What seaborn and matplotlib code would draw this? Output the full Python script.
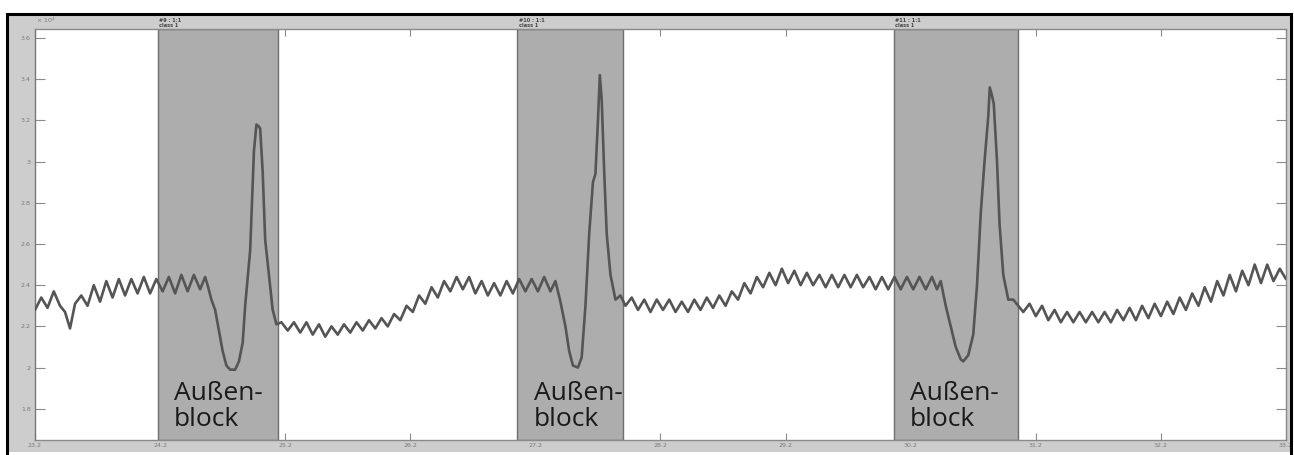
import numpy as np
import pandas as pd
import matplotlib
matplotlib.use("Agg")
import matplotlib.pyplot as plt
from matplotlib.patches import Rectangle
from matplotlib.transforms import blended_transform_factory
import seaborn as sns

# ---------------- data (signal values in units of 10^4) ----------------
seg1_t = [23.20, 23.25, 23.30, 23.35, 23.40, 23.44, 23.48, 23.52, 23.57, 23.62,
          23.67, 23.72, 23.77, 23.82, 23.87, 23.92, 23.97, 24.02, 24.07, 24.12,
          24.17, 24.22, 24.27, 24.32, 24.37, 24.42, 24.47, 24.52, 24.56]
seg1_v = [2.28, 2.34, 2.29, 2.37, 2.30, 2.27, 2.19, 2.31, 2.35, 2.30,
          2.40, 2.32, 2.42, 2.34, 2.43, 2.35, 2.43, 2.36, 2.44, 2.36,
          2.43, 2.37, 2.44, 2.36, 2.45, 2.37, 2.45, 2.38, 2.44]

ev1_t = [24.58, 24.61, 24.64, 24.67, 24.70, 24.73, 24.76, 24.80, 24.83, 24.86,
         24.88, 24.92, 24.95, 24.97, 24.99, 25.00, 25.02, 25.04, 25.07, 25.10, 25.13]
ev1_v = [2.40, 2.33, 2.28, 2.18, 2.08, 2.01, 1.99, 1.99, 2.03, 2.12,
         2.30, 2.57, 3.05, 3.18, 3.17, 3.16, 2.95, 2.62, 2.45, 2.28, 2.21]

seg2_t = [25.17, 25.22, 25.27, 25.32, 25.37, 25.42, 25.47, 25.52, 25.57, 25.62,
          25.67, 25.72, 25.77, 25.82, 25.87, 25.92, 25.97, 26.02, 26.07, 26.12,
          26.17, 26.22, 26.27, 26.32, 26.37, 26.42, 26.47, 26.52, 26.57, 26.62,
          26.67, 26.72, 26.77, 26.82, 26.87, 26.92, 26.97, 27.02, 27.07, 27.12,
          27.17, 27.22, 27.27, 27.32, 27.36]
seg2_v = [2.22, 2.18, 2.22, 2.17, 2.22, 2.16, 2.21, 2.15, 2.20, 2.16,
          2.21, 2.17, 2.22, 2.18, 2.23, 2.19, 2.24, 2.20, 2.26, 2.23,
          2.30, 2.27, 2.35, 2.31, 2.39, 2.34, 2.42, 2.37, 2.44, 2.38,
          2.44, 2.36, 2.42, 2.35, 2.41, 2.35, 2.42, 2.36, 2.43, 2.37,
          2.43, 2.37, 2.44, 2.37, 2.42]

ev2_t = [27.40, 27.44, 27.47, 27.50, 27.54, 27.57, 27.60, 27.63, 27.66, 27.68,
         27.70, 27.715, 27.73, 27.75, 27.77, 27.80, 27.84, 27.88, 27.92]
ev2_v = [2.32, 2.20, 2.08, 2.01, 2.00, 2.05, 2.30, 2.65, 2.90, 2.94,
         3.20, 3.42, 3.30, 2.95, 2.65, 2.45, 2.33, 2.35, 2.30]

seg3_t = [27.97, 28.02, 28.07, 28.12, 28.17, 28.22, 28.27, 28.32, 28.37, 28.42,
          28.47, 28.52, 28.57, 28.62, 28.67, 28.72, 28.77, 28.82, 28.87, 28.92,
          28.97, 29.02, 29.07, 29.12, 29.17, 29.22, 29.27, 29.32, 29.37, 29.42,
          29.47, 29.52, 29.57, 29.62, 29.67, 29.72, 29.77, 29.82, 29.87, 29.92,
          29.97, 30.02, 30.07, 30.12, 30.17, 30.22, 30.27, 30.32, 30.37, 30.41,
          30.44]
seg3_v = [2.34, 2.28, 2.33, 2.27, 2.33, 2.28, 2.33, 2.27, 2.32, 2.27,
          2.33, 2.28, 2.34, 2.29, 2.35, 2.30, 2.37, 2.33, 2.41, 2.36,
          2.44, 2.39, 2.46, 2.40, 2.48, 2.41, 2.47, 2.40, 2.46, 2.40,
          2.45, 2.39, 2.45, 2.39, 2.45, 2.39, 2.45, 2.39, 2.44, 2.38,
          2.44, 2.38, 2.44, 2.38, 2.44, 2.38, 2.44, 2.38, 2.44, 2.38,
          2.42]

ev3_t = [30.48, 30.52, 30.56, 30.60, 30.62, 30.66, 30.70, 30.73, 30.76, 30.79,
         30.82, 30.832, 30.85, 30.864, 30.89, 30.91, 30.94, 30.98, 31.02, 31.06]
ev3_v = [2.30, 2.20, 2.10, 2.04, 2.03, 2.06, 2.16, 2.40, 2.75, 3.00,
         3.22, 3.36, 3.32, 3.28, 3.00, 2.70, 2.45, 2.33, 2.33, 2.30]

seg4_t = [31.10, 31.15, 31.20, 31.25, 31.30, 31.35, 31.40, 31.45, 31.50, 31.55,
          31.60, 31.65, 31.70, 31.75, 31.80, 31.85, 31.90, 31.95, 32.00, 32.05,
          32.10, 32.15, 32.20, 32.25, 32.30, 32.35, 32.40, 32.45, 32.50, 32.55,
          32.60, 32.65, 32.70, 32.75, 32.80, 32.85, 32.90, 32.95, 33.00, 33.05,
          33.10, 33.15, 33.20]
seg4_v = [2.27, 2.31, 2.25, 2.30, 2.23, 2.28, 2.22, 2.27, 2.22, 2.27,
          2.22, 2.27, 2.22, 2.27, 2.22, 2.28, 2.23, 2.29, 2.23, 2.30,
          2.24, 2.31, 2.25, 2.32, 2.26, 2.34, 2.28, 2.36, 2.30, 2.39,
          2.32, 2.42, 2.35, 2.45, 2.37, 2.47, 2.40, 2.50, 2.41, 2.50,
          2.42, 2.48, 2.43]

block_start = [24.18, 27.056, 30.064]
block_end = [25.14, 27.904, 31.056]
block_ids = ["#9 : 1:1", "#10 : 1:1", "#11 : 1:1"]
block_class = ["class 1", "class 1", "class 1"]
block_label = "Außen-\nblock"

x_ticks = [23.2, 24.2, 25.2, 26.2, 27.2, 28.2, 29.2, 30.2, 31.2, 32.2, 33.2]
x_ticklabels = ["23.2", "24.2", "25.2", "26.2", "27.2", "28.2", "29.2",
                "30.2", "31.2", "32.2", "33.2"]
y_ticks = [1.8, 2.0, 2.2, 2.4, 2.6, 2.8, 3.0, 3.2, 3.4, 3.6]
y_ticklabels = ["1.8", "2", "2.2", "2.4", "2.6", "2.8", "3", "3.2", "3.4", "3.6"]

# ---------------- build table ----------------
t_all = seg1_t + ev1_t + seg2_t + ev2_t + seg3_t + ev3_t + seg4_t
v_all = seg1_v + ev1_v + seg2_v + ev2_v + seg3_v + ev3_v + seg4_v
df = pd.DataFrame({"t": t_all, "v": v_all})

# ---------------- figure ----------------
sns.set_theme(style="white")
plt.rcParams["font.family"] = ["DejaVu Sans"]

W, H = 1294, 455
fig = plt.figure(figsize=(W / 100, H / 100), dpi=100)
fig.patch.set_facecolor("white")

# grey figure panel and black frame (MATLAB-like window)
fig.patches.append(Rectangle((8 / W, 1 - 452 / H), 1282 / W, 437 / H,
                             transform=fig.transFigure, facecolor="#cdcdcd",
                             edgecolor="none", zorder=-10))
fig.patches.append(Rectangle((7 / W, -0.05), 1284 / W, 1.05 - 14 / H,
                             transform=fig.transFigure, facecolor="none",
                             edgecolor="black", linewidth=2.2, zorder=5))

ax = fig.add_axes([35 / W, 1 - 440 / H, (1286 - 35) / W, (440 - 29) / H])
ax.set_facecolor("white")

for s, e in zip(block_start, block_end):
    ax.axvspan(s, e, facecolor="#adadad", edgecolor="#6f6f6f", linewidth=1.0, zorder=1)

sns.lineplot(data=df, x="t", y="v", sort=False, estimator=None, ax=ax,
             color="#555555", linewidth=1.9, zorder=3)

ax.set_xlim(23.2, 33.2)
ax.set_ylim(1.6485, 3.6437)
ax.set_xticks(x_ticks)
ax.set_xticklabels(x_ticklabels)
ax.set_yticks(y_ticks)
ax.set_yticklabels(y_ticklabels)
ax.set_xlabel("")
ax.set_ylabel("")

ax.tick_params(axis="y", direction="in", length=7.5, width=0.8, color="#8a8a8a",
               left=True, right=True, labelsize=4.5, labelcolor="#7a7a7a", pad=3)
ax.tick_params(axis="x", direction="in", length=5, width=0.8, color="#8a8a8a",
               bottom=True, top=True, labelsize=4.5, labelcolor="#7a7a7a", pad=2)
for side, sp in ax.spines.items():
    sp.set_visible(True)
    sp.set_color("#8a8a8a")
    sp.set_linewidth(1.0)
ax.spines["left"].set_color("#777777")

# annotations
trans = blended_transform_factory(ax.transData, ax.transAxes)
for s, bid, bcl in zip(block_start, block_ids, block_class):
    ax.text(s + 0.01, 1.003, bid + "\n" + bcl, transform=trans, fontsize=3.6,
            color="#444444", va="bottom", ha="left", linespacing=0.9,
            fontweight="bold")
    ax.text(s + 0.13, 0.02, block_label, transform=trans, fontsize=19,
            family=["Open Sans", "DejaVu Sans"], color="#1a1a1a",
            va="bottom", ha="left", linespacing=1.05, zorder=4)

fig.text(36 / W, 1 - 25 / H, "× 10$^4$", fontsize=4.5, color="#7a7a7a",
         ha="left", va="bottom")

fig.savefig("out.png", dpi=100, facecolor=fig.get_facecolor())
